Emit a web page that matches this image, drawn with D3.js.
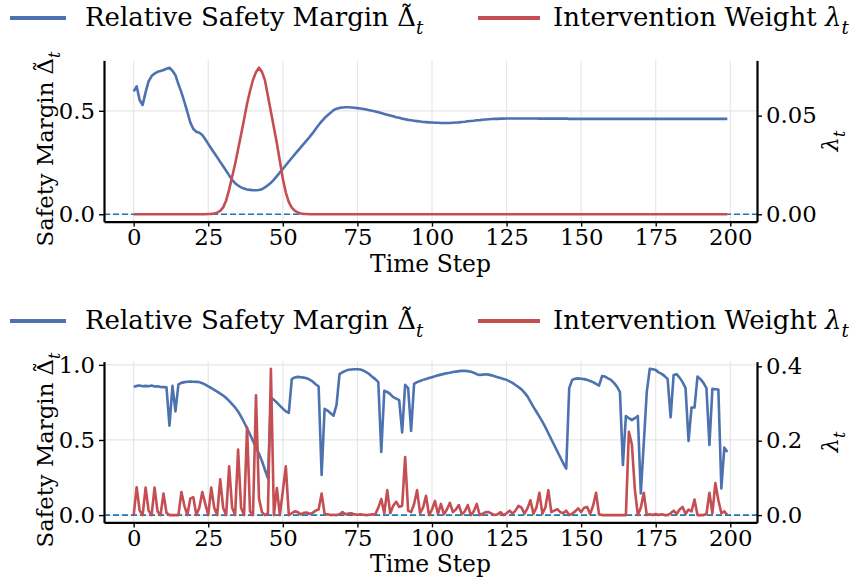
<!DOCTYPE html>
<html>
<head>
<meta charset="utf-8">
<script src="https://cdn.jsdelivr.net/npm/d3@7/dist/d3.min.js"></script>
<style>
  body { margin: 0; background: #fff; }
  svg { display: block; }
</style>
</head>
<body>
<svg id="chart" width="851" height="579"></svg>
<script>
// ---- data -------------------------------------------------------------
const xTicks = [0, 25, 50, 75, 100, 125, 150, 175, 200];

// Panel 1: smooth run
const topMargin = [
  0.594, 0.618, 0.552, 0.528, 0.590, 0.642, 0.668, 0.680, 0.688, 0.692,
  0.697, 0.703, 0.708, 0.693, 0.672, 0.628, 0.589, 0.543, 0.494, 0.443,
  0.412, 0.399, 0.394, 0.383, 0.362, 0.340, 0.318, 0.296, 0.275, 0.253,
  0.232, 0.210, 0.188, 0.166, 0.150, 0.139, 0.130, 0.124, 0.120, 0.118,
  0.116, 0.116, 0.117, 0.121, 0.130, 0.140, 0.152, 0.167, 0.184, 0.202,
  0.219, 0.237, 0.255, 0.272, 0.289, 0.306, 0.323, 0.340, 0.357, 0.374,
  0.392, 0.412, 0.431, 0.449, 0.465, 0.478, 0.490, 0.503, 0.510, 0.514,
  0.516, 0.517, 0.517, 0.516, 0.515, 0.513, 0.511, 0.509, 0.506, 0.503,
  0.500, 0.497, 0.493, 0.489, 0.485, 0.481, 0.477, 0.473, 0.469, 0.466,
  0.462, 0.459, 0.456, 0.454, 0.452, 0.450, 0.448, 0.446, 0.445, 0.444,
  0.443, 0.442, 0.442, 0.441, 0.441, 0.441, 0.441, 0.442, 0.443, 0.444,
  0.446, 0.447, 0.449, 0.451, 0.452, 0.454, 0.455, 0.457, 0.458, 0.459,
  0.460, 0.461, 0.461, 0.462, 0.462, 0.463, 0.463, 0.463, 0.463, 0.463,
  0.463, 0.463, 0.463, 0.463, 0.463, 0.463, 0.462, 0.462, 0.462, 0.462,
  0.462, 0.462, 0.462, 0.462, 0.462, 0.462, 0.461, 0.461, 0.461, 0.461,
  0.461, 0.461, 0.461, 0.461, 0.461, 0.461, 0.461, 0.461, 0.461, 0.461,
  0.461, 0.461, 0.461, 0.461, 0.461, 0.461, 0.461, 0.461, 0.461, 0.461,
  0.461, 0.461, 0.461, 0.461, 0.461, 0.461, 0.461, 0.461, 0.461, 0.461,
  0.461, 0.461, 0.461, 0.461, 0.461, 0.461, 0.461, 0.461, 0.461, 0.461,
  0.461, 0.461, 0.461, 0.461, 0.461, 0.461, 0.461, 0.461, 0.461, 0.461
];
const topWeight = [
  0, 0, 0, 0, 0, 0, 0, 0, 0, 0,
  0, 0, 0, 0, 0, 0, 0, 0, 0, 0,
  0, 0, 0, 0, 0.0000, 0.0001, 0.0002, 0.0004, 0.0008, 0.0017,
  0.0035, 0.0070, 0.0125, 0.0190, 0.0255, 0.0330, 0.0405, 0.0480, 0.0560, 0.0625,
  0.0682, 0.0720, 0.0743, 0.0722, 0.0680, 0.0600, 0.0520, 0.0440, 0.0360, 0.0270,
  0.0180, 0.0110, 0.0062, 0.0034, 0.0018, 0.0009, 0.0004, 0.0002, 0.0001, 0,
  0, 0, 0, 0, 0, 0, 0, 0, 0, 0,
  0, 0, 0, 0, 0, 0, 0, 0, 0, 0,
  0, 0, 0, 0, 0, 0, 0, 0, 0, 0,
  0, 0, 0, 0, 0, 0, 0, 0, 0, 0,
  0, 0, 0, 0, 0, 0, 0, 0, 0, 0,
  0, 0, 0, 0, 0, 0, 0, 0, 0, 0,
  0, 0, 0, 0, 0, 0, 0, 0, 0, 0,
  0, 0, 0, 0, 0, 0, 0, 0, 0, 0,
  0, 0, 0, 0, 0, 0, 0, 0, 0, 0,
  0, 0, 0, 0, 0, 0, 0, 0, 0, 0,
  0, 0, 0, 0, 0, 0, 0, 0, 0, 0,
  0, 0, 0, 0, 0, 0, 0, 0, 0, 0,
  0, 0, 0, 0, 0, 0, 0, 0, 0, 0,
  0, 0, 0, 0, 0, 0, 0, 0, 0, 0
];
const topMarginTicks = [0, 0.5];
const topWeightTicks = [0, 0.05];

// Panel 2: noisy run
const botMargin = [
  0.855, 0.860, 0.862, 0.857, 0.860, 0.858, 0.862, 0.856, 0.857, 0.853,
  0.852, 0.850, 0.595, 0.860, 0.690, 0.870, 0.880, 0.885, 0.888, 0.889,
  0.888, 0.887, 0.885, 0.878, 0.868, 0.857, 0.846, 0.834, 0.822, 0.809,
  0.796, 0.779, 0.760, 0.739, 0.716, 0.690, 0.655, 0.618, 0.578, 0.536,
  0.494, 0.451, 0.408, 0.360, 0.302, 0.245, 0.780, 0.767, 0.749, 0.729,
  0.709, 0.690, 0.680, 0.905, 0.916, 0.920, 0.918, 0.915, 0.911, 0.902,
  0.889, 0.871, 0.856, 0.267, 0.707, 0.696, 0.678, 0.662, 0.733, 0.938,
  0.951, 0.960, 0.967, 0.969, 0.971, 0.971, 0.969, 0.962, 0.951, 0.938,
  0.920, 0.905, 0.885, 0.420, 0.827, 0.820, 0.805, 0.785, 0.775, 0.765,
  0.550, 0.867, 0.845, 0.560, 0.873, 0.885, 0.893, 0.900, 0.906, 0.912,
  0.918, 0.924, 0.930, 0.935, 0.940, 0.944, 0.948, 0.952, 0.955, 0.958,
  0.960, 0.960, 0.958, 0.955, 0.948, 0.938, 0.933, 0.935, 0.937, 0.935,
  0.930, 0.924, 0.918, 0.912, 0.906, 0.900, 0.890, 0.880, 0.866, 0.852,
  0.837, 0.815, 0.790, 0.755, 0.720, 0.688, 0.655, 0.622, 0.585, 0.545,
  0.505, 0.465, 0.425, 0.385, 0.345, 0.310, 0.845, 0.900, 0.908, 0.910,
  0.908, 0.905, 0.900, 0.893, 0.885, 0.873, 0.862, 0.925, 0.922, 0.910,
  0.900, 0.880, 0.855, 0.820, 0.333, 0.660, 0.645, 0.632, 0.645, 0.660,
  0.144, 0.480, 0.820, 0.973, 0.971, 0.965, 0.950, 0.940, 0.925, 0.905,
  0.651, 0.933, 0.938, 0.915, 0.885, 0.845, 0.493, 0.716, 0.716, 0.922,
  0.905, 0.880, 0.845, 0.467, 0.840, 0.838, 0.835, 0.178, 0.449, 0.420
];
const botWeight = [
  0.000, 0.075, 0.012, 0.000, 0.074, 0.012, 0.000, 0.074, 0.010, 0.000,
  0.058, 0.006, 0.000, 0.000, 0.000, 0.000, 0.062, 0.025, 0.000, 0.045,
  0.048, 0.000, 0.020, 0.062, 0.030, 0.000, 0.074, 0.020, 0.000, 0.096,
  0.020, 0.000, 0.131, 0.020, 0.000, 0.176, 0.020, 0.000, 0.236, 0.010,
  0.000, 0.322, 0.045, 0.008, 0.000, 0.005, 0.393, 0.000, 0.073, 0.000,
  0.065, 0.131, 0.000, 0.005, 0.010, 0.008, 0.002, 0.006, 0.007, 0.003,
  0.006, 0.012, 0.015, 0.058, 0.003, 0.002, 0.000, 0.001, 0.000, 0.002,
  0.008, 0.002, 0.004, 0.005, 0.002, 0.001, 0.002, 0.001, 0.000, 0.001,
  0.002, 0.002, 0.020, 0.043, 0.005, 0.067, 0.005, 0.025, 0.036, 0.022,
  0.025, 0.156, 0.012, 0.008, 0.030, 0.067, 0.005, 0.020, 0.052, 0.000,
  0.015, 0.038, 0.003, 0.030, 0.002, 0.015, 0.033, 0.008, 0.015, 0.027,
  0.002, 0.010, 0.027, 0.000, 0.010, 0.030, 0.000, 0.004, 0.008, 0.008,
  0.004, 0.000, 0.002, 0.008, 0.000, 0.005, 0.012, 0.004, 0.012, 0.025,
  0.020, 0.004, 0.018, 0.040, 0.004, 0.020, 0.060, 0.004, 0.020, 0.067,
  0.008, 0.012, 0.016, 0.008, 0.005, 0.012, 0.000, 0.004, 0.010, 0.018,
  0.008, 0.020, 0.022, 0.003, 0.025, 0.060, 0.002, 0.000, 0.000, 0.000,
  0.000, 0.000, 0.000, 0.000, 0.000, 0.000, 0.224, 0.190, 0.070, 0.000,
  0.020, 0.060, 0.000, 0.002, 0.000, 0.003, 0.000, 0.002, 0.000, 0.000,
  0.005, 0.012, 0.003, 0.015, 0.022, 0.003, 0.015, 0.010, 0.042, 0.000,
  0.000, 0.000, 0.003, 0.060, 0.005, 0.086, 0.040, 0.005, 0.010, 0.000
];
const botMarginTicks = [0, 0.5, 1.0];
const botWeightTicks = [0, 0.2, 0.4];

const marginLabel = "Relative Safety Margin";
const weightLabel = "Intervention Weight";
const yLeftLabel = "Safety Margin";
const xLabel = "Time Step";

// ---- drawing ----------------------------------------------------------
const FONT = '"DejaVu Serif", serif';
const BLUE = "#4c72b0", RED = "#c44e52", ZERO = "#1f77b4";
const GRID = "#e6e6e6";
const svg = d3.select("#chart");

const plotLeft = 104, plotRight = 757;
const n = topMargin.length;
const x = d3.scaleLinear()
  .domain([-(n - 1) * 0.05, (n - 1) * 1.05])
  .range([plotLeft, plotRight]);

function padded(values) {
  const lo = Math.min(0, d3.min(values)), hi = d3.max(values);
  const p = (hi - lo) * 0.05;
  return [lo - p, hi + p];
}

// Δ̃_t / λ_t math symbols built from tspans (tilde centred over the Delta)
function addSymbol(textSel, kind, size) {
  let sub;
  const lift = size * 0.08, drop = size * 0.3;
  if (kind === "delta") {
    const base = textSel.append("tspan").text("\u0394");
    const tilde = textSel.append("tspan").text("\u02dc");
    const wB = base.node().getComputedTextLength();
    const wT = tilde.node().getComputedTextLength();
    tilde.attr("dx", -(wB + wT) / 2).attr("dy", -lift);
    sub = textSel.append("tspan").attr("dx", (wB - wT) / 2).attr("dy", lift + drop);
  } else {
    textSel.append("tspan").attr("font-style", "italic").text("\u03bb");
    sub = textSel.append("tspan").attr("dy", drop);
  }
  sub.attr("font-style", "italic").attr("font-size", size * 0.7).text("t");
}

const panels = [
  { top: 60.4, bottom: 221.6, margin: topMargin, weight: topWeight,
    lTicks: topMarginTicks, rTicks: topWeightTicks,
    lFmt: d3.format(".1f"), rFmt: d3.format(".2f"), legendY: 18 },
  { top: 361.6, bottom: 522.4, margin: botMargin, weight: botWeight,
    lTicks: botMarginTicks, rTicks: botWeightTicks,
    lFmt: d3.format(".1f"), rFmt: d3.format(".1f"), legendY: 321 }
];

const TICK_FS = 22.8, LABEL_FS = 22.8, XLABEL_FS = 23.4, LEGEND_FS = 26;

panels.forEach(p => {
  const yL = d3.scaleLinear().domain(padded(p.margin)).range([p.bottom, p.top]);
  const yR = d3.scaleLinear().domain(padded(p.weight)).range([p.bottom, p.top]);
  const g = svg.append("g");

  // grid
  g.append("g").selectAll("line").data(xTicks).join("line")
    .attr("x1", d => x(d)).attr("x2", d => x(d))
    .attr("y1", p.top).attr("y2", p.bottom)
    .attr("stroke", GRID).attr("stroke-width", 1.2);
  g.append("g").selectAll("line").data(p.lTicks).join("line")
    .attr("x1", plotLeft).attr("x2", plotRight)
    .attr("y1", d => yL(d)).attr("y2", d => yL(d))
    .attr("stroke", GRID).attr("stroke-width", 1.2);

  // zero reference
  g.append("line")
    .attr("x1", plotLeft).attr("x2", plotRight)
    .attr("y1", yL(0)).attr("y2", yL(0))
    .attr("stroke", ZERO).attr("stroke-width", 1.6)
    .attr("stroke-dasharray", "6,3");

  const lineL = d3.line().x((d, i) => x(i)).y(d => yL(d));
  const lineR = d3.line().x((d, i) => x(i)).y(d => yR(d));
  g.append("path").attr("d", lineL(p.margin))
    .attr("fill", "none").attr("stroke", BLUE).attr("stroke-width", 2.6)
    .attr("stroke-linejoin", "round");
  g.append("path").attr("d", lineR(p.weight))
    .attr("fill", "none").attr("stroke", RED).attr("stroke-width", 2.6)
    .attr("stroke-linejoin", "round");

  // axes
  const styleAxis = a => {
    a.selectAll("path.domain").attr("stroke", "#000").attr("stroke-width", 2.2);
    a.selectAll(".tick line").attr("stroke", "#000").attr("stroke-width", 1.4);
    a.selectAll("text").attr("font-family", FONT).attr("font-size", TICK_FS).attr("fill", "#000");
  };
  g.append("g").attr("transform", `translate(0,${p.bottom})`)
    .call(d3.axisBottom(x).tickValues(xTicks).tickSize(5).tickSizeOuter(0).tickPadding(2).tickFormat(d3.format("d")))
    .call(styleAxis);
  g.append("g").attr("transform", `translate(${plotLeft},0)`)
    .call(d3.axisLeft(yL).tickValues(p.lTicks).tickSize(5).tickSizeOuter(0).tickPadding(4).tickFormat(p.lFmt))
    .call(styleAxis);
  g.append("g").attr("transform", `translate(${plotRight},0)`)
    .call(d3.axisRight(yR).tickValues(p.rTicks).tickSize(5).tickSizeOuter(0).tickPadding(4).tickFormat(p.rFmt))
    .call(styleAxis);

  // axis titles
  g.append("text")
    .attr("x", (plotLeft + plotRight) / 2).attr("y", p.bottom + 50)
    .attr("text-anchor", "middle")
    .attr("font-family", FONT).attr("font-size", XLABEL_FS)
    .text(xLabel);

  const cy = (p.top + p.bottom) / 2;
  const yl = g.append("text")
    .attr("transform", `translate(53,${cy + 8}) rotate(-90)`)
    .attr("text-anchor", "middle")
    .attr("font-family", FONT).attr("font-size", LABEL_FS);
  yl.append("tspan").text(yLeftLabel + " ");
  addSymbol(yl, "delta", LABEL_FS);

  const yr = g.append("text")
    .attr("transform", `translate(838,${cy}) rotate(-90)`)
    .attr("text-anchor", "middle")
    .attr("font-family", FONT).attr("font-size", LABEL_FS);
  addSymbol(yr, "lambda", LABEL_FS);

  // legend
  const lg = g.append("g").attr("transform", `translate(0,${p.legendY})`);
  const entries = [
    { x0: 10, x1: 66, tx: 85, color: BLUE, label: marginLabel, sym: "delta" },
    { x0: 478, x1: 540, tx: 553, color: RED, label: weightLabel, sym: "lambda" }
  ];
  entries.forEach(e => {
    lg.append("line").attr("x1", e.x0).attr("x2", e.x1).attr("y1", 0).attr("y2", 0)
      .attr("stroke", e.color).attr("stroke-width", 3.8);
    const t = lg.append("text").attr("x", e.tx).attr("y", 8)
      .attr("font-family", FONT).attr("font-size", LEGEND_FS);
    t.append("tspan").text(e.label + " ");
    addSymbol(t, e.sym, LEGEND_FS);
  });
});
</script>
</body>
</html>
